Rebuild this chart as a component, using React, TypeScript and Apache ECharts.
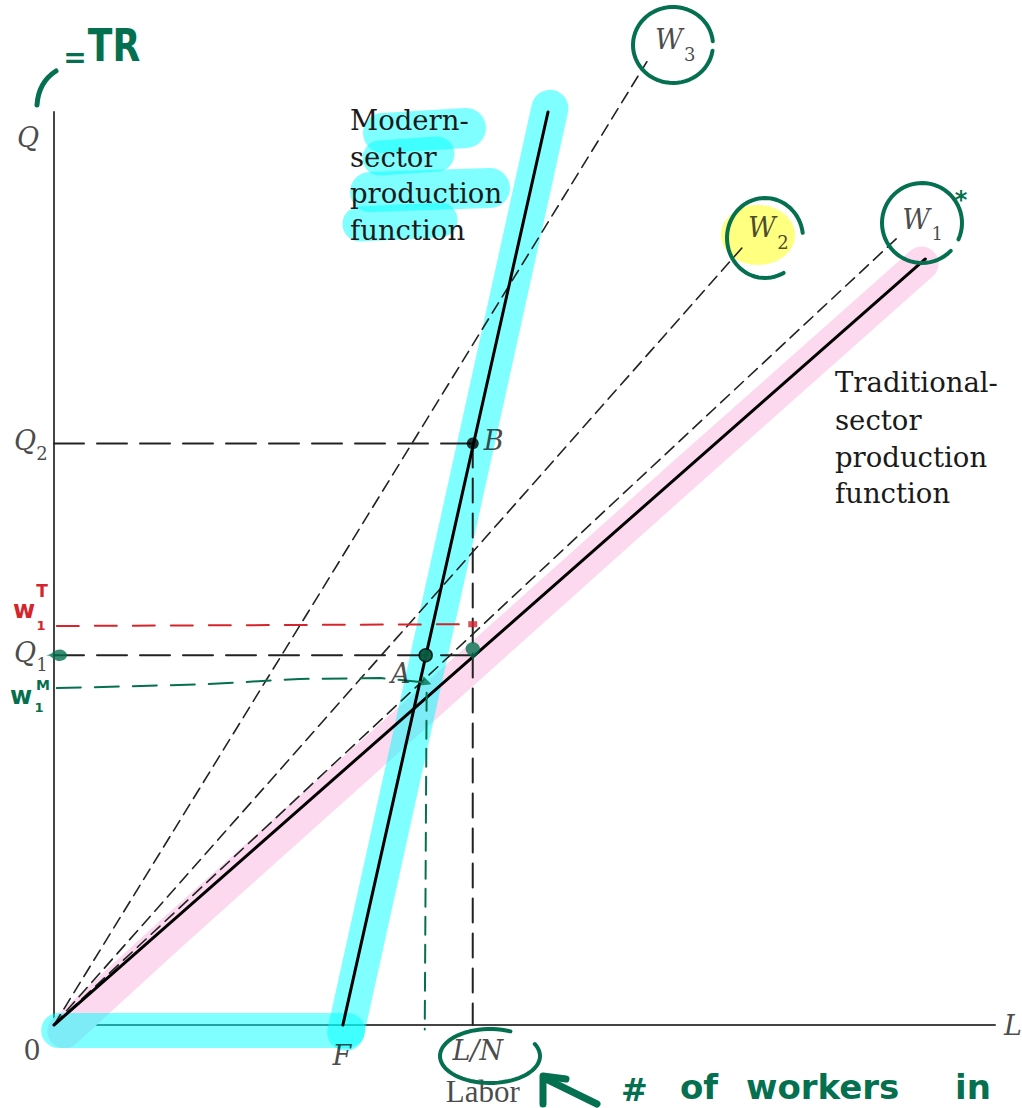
import React, { useEffect, useRef } from "react";
import * as echarts from "echarts";

// ---- axis ranges (arbitrary units) ----
const X_MAX = 100;
const Y_MAX = 100;

// ---- key values ----
const F_LABOR = 30.7;
const LN_LABOR = 44.5;
const Q1 = 40.5;
const Q2 = 63.7;
const W1T_LEVEL = 43.9;

// ---- curves ----
const traditionalCurve = [[0, 0], [92.6, 83.9]];
const modernCurve = [[F_LABOR, 0], [52.5, 100]];
const wageW1 = [[0, 0], [89.6, 86.2]];
const wageW2 = [[0, 0], [73.1, 85.1]];
const wageW3 = [[0, 0], [63.0, 105.5]];
const pointA = [39.5, Q1];
const pointB = [LN_LABOR, Q2];
const q2Guide = [[0, Q2], [LN_LABOR, Q2]];
const q1Guide = [[0, Q1], [LN_LABOR, Q1]];
const lnGuide = [[LN_LABOR, Q2], [LN_LABOR, 0]];
const w1tGuide = [[0.3, 43.7], [LN_LABOR, W1T_LEVEL]];
const w1mCurve = [[0.3, 36.9], [15.5, 37.3], [26.1, 37.9], [34.7, 38.0], [39.6, 37.5]];
const w1mDrop = [[39.6, 36.4], [39.4, -0.5]];
const modernHighlight = [[52.7, 100.4], [31.0, -0.8]];
const floorHighlight = [[0.5, -0.6], [31.2, -0.6]];
const traditionalHighlight = [[1.1, -0.7], [12.65, 10.2], [67.6, 60.9], [92.2, 83.4]];

const INK = "#1a1a1a";
const GREEN = "#04704f";
const RED = "#d6242c";
const CYAN = "rgba(0,255,255,0.5)";
const PINK = "#fcd9ee";
const SERIF = "'DejaVu Serif', serif";
const HAND = "'DejaVu Sans', sans-serif";

function arcPoints(cx: number, cy: number, rx: number, ry: number, a0: number, a1: number) {
  const pts: number[][] = [];
  const n = 60;
  for (let i = 0; i <= n; i++) {
    const a = a0 + ((a1 - a0) * i) / n;
    pts.push([cx + rx * Math.cos(a), cy + ry * Math.sin(a)]);
  }
  return pts;
}

function lineSeries(data: number[][], color: string, width: number, type: any, z: number) {
  return {
    type: "line",
    data,
    symbol: "none",
    showSymbol: false,
    clip: false,
    silent: true,
    z,
    lineStyle: { color, width, type, cap: "round", join: "round" },
  };
}

export default function App() {
  const ref = useRef<HTMLDivElement>(null);

  useEffect(() => {
    if (!ref.current) return;
    const chart = echarts.init(ref.current, null, { renderer: "svg" });

    const labels: any[] = [
      { at: [0, Y_MAX], text: "Q", off: [-26, 25] },
      { at: [0, Q2], text: "Q", off: [-29, -3] },
      { at: [0, Q2], text: "2", off: [-12, 10], size: 18, up: true },
      { at: [0, Q1], text: "Q", off: [-29, -3] },
      { at: [0, Q1], text: "1", off: [-12, 9], size: 18, up: true },
      { at: [0, 0], text: "0", off: [-22, 25], up: true },
      { at: [F_LABOR, 0], text: "F", off: [-1, 30] },
      { at: [LN_LABOR, 0], text: "L/N", off: [5, 25] },
      { at: [LN_LABOR, 0], text: "Labor", off: [10, 66], up: true, size: 31, family: "'Liberation Serif', serif" },
      { at: [X_MAX, 0], text: "L", off: [18, 0] },
      { at: pointB, text: "B", off: [21, -3] },
      { at: pointA, text: "A", off: [-25, 18] },
      { at: wageW3[1], text: "W", off: [22, -22] },
      { at: wageW3[1], text: "3", off: [43, -7], size: 18, up: true },
      { at: wageW2[1], text: "W", off: [20, -21] },
      { at: wageW2[1], text: "2", off: [41, -6], size: 18, up: true },
      { at: wageW1[1], text: "W", off: [19, -18] },
      { at: wageW1[1], text: "1", off: [40, -4], size: 18, up: true },
    ];

    const series: any[] = [
      lineSeries(traditionalHighlight, PINK, 34, "solid", 1),
      lineSeries(floorHighlight, CYAN, 35, "solid", 2),
      lineSeries(modernHighlight, CYAN, 37, "solid", 2),
      lineSeries(wageW1, "#222", 1.6, [12, 7], 3),
      lineSeries(wageW2, "#222", 1.6, [12, 7], 3),
      lineSeries(wageW3, "#222", 1.6, [12, 7], 3),
      lineSeries(q2Guide, "#222", 2, [30, 13], 3),
      lineSeries(q1Guide, "#222", 2, [30, 13], 3),
      lineSeries(lnGuide, "#222", 2, [24, 11], 3),
      lineSeries(traditionalCurve, "#000", 3, "solid", 4),
      lineSeries(modernCurve, "#000", 3, "solid", 4),
      lineSeries(w1tGuide, RED, 2, [22, 16], 5),
      lineSeries(w1mCurve, GREEN, 2, [24, 14], 5),
      lineSeries(w1mDrop, GREEN, 2, [18, 10], 5),
      {
        type: "scatter",
        silent: true,
        clip: false,
        z: 6,
        data: [pointA, pointB],
        symbol: "circle",
        symbolSize: 12,
        itemStyle: { color: "#000" },
      },
      {
        type: "scatter",
        silent: true,
        clip: false,
        z: 7,
        data: [
          { value: pointA, symbol: "circle", symbolSize: 13, itemStyle: { color: "#0b6a4a", borderColor: "#000", borderWidth: 1.5 } },
          { value: [LN_LABOR, Q1], symbol: "pin", symbolSize: [24, 22], symbolOffset: [0, 6], itemStyle: { color: GREEN } },
          { value: [0, Q1], symbol: "pin", symbolSize: [19, 24], symbolRotate: -90, symbolOffset: [-8, 0], itemStyle: { color: GREEN } },
          { value: [LN_LABOR, W1T_LEVEL], symbol: "rect", symbolSize: [9, 6], itemStyle: { color: RED } },
          { value: w1mCurve[w1mCurve.length - 1], symbol: "triangle", symbolSize: 10, symbolRotate: -110, itemStyle: { color: GREEN } },
        ],
      },
      {
        type: "scatter",
        silent: true,
        clip: false,
        z: 10,
        symbolSize: 1,
        itemStyle: { color: "rgba(0,0,0,0)" },
        data: labels.map((l) => ({
          value: l.at,
          label: {
            show: true,
            position: "inside",
            formatter: l.text,
            offset: l.off,
            fontSize: l.size || 27,
            fontStyle: l.up ? "normal" : "italic",
            fontFamily: l.family || SERIF,
            color: INK,
          },
        })),
      },
    ];

    const textLines = (lines: string[], x: number, ys: number[]) =>
      lines.map((t, i) => ({
        type: "text",
        x,
        y: ys[i],
        z: 50,
        silent: true,
        style: { text: t, fontSize: 27.5, fontFamily: SERIF, fill: INK, align: "left", verticalAlign: "middle" },
      }));

    const hl = (x1: number, y1: number, x2: number, y2: number, w: number) => ({
      type: "line",
      z: 1,
      silent: true,
      shape: { x1, y1, x2, y2 },
      style: { stroke: CYAN, lineWidth: w, lineCap: "round" },
    });

    const pen = (points: number[][], color: string, w: number) => ({
      type: "polyline",
      z: 100,
      silent: true,
      shape: { points },
      style: { stroke: color, lineWidth: w, fill: "none", lineCap: "round", lineJoin: "round" },
    });

    const hand = (text: string, x: number, y: number, size: number, color: string, align = "center", scaleX = 1) => ({
      type: "text",
      x,
      y,
      scaleX,
      z: 100,
      silent: true,
      style: { text, fontSize: size, fontWeight: "bold", fontFamily: HAND, fill: color, align, verticalAlign: "middle" },
    });

    const graphic: any[] = [
      // highlighter marks
      hl(383, 133, 466, 128, 40),
      hl(380, 158, 437, 154, 35),
      hl(370, 192, 490, 188, 40),
      hl(360, 224, 440, 220, 35),
      { type: "ellipse", z: 1, silent: true, shape: { cx: 758, cy: 235, rx: 37, ry: 30 }, style: { fill: "#ffff80" } },
      // printed labels
      ...textLines(["Modern-", "sector", "production", "function"], 350, [120, 157, 193, 230]),
      ...textLines(["Traditional-", "sector", "production", "function"], 835, [382, 420, 457, 493]),
      // hand-drawn annotations
      {
        type: "bezierCurve",
        z: 100,
        silent: true,
        shape: { x1: 37, y1: 105, cpx1: 38, cpy1: 90, cpx2: 45, cpy2: 78, x2: 56, y2: 71 },
        style: { stroke: GREEN, lineWidth: 5, fill: "none", lineCap: "round" },
      },
      hand("=", 75, 57, 28, GREEN),
      hand("TR", 114, 46, 44, GREEN, "center", 0.82),
      pen(arcPoints(673, 45, 40, 38, 0.15, Math.PI * 2 - 0.1), GREEN, 4),
      pen(arcPoints(765, 238, 38, 40, 1.06, Math.PI * 2 - 0.13), GREEN, 4),
      pen(arcPoints(922, 223, 40, 40, 0.77, Math.PI * 2 + 0.42), GREEN, 4),
      hand("*", 961, 200, 24, GREEN),
      pen(arcPoints(490, 1056, 50, 27, -0.46, Math.PI * 2 - 1.15), GREEN, 4),
      pen([[543, 1104], [543, 1076], [566, 1079]], GREEN, 7),
      pen([[546, 1079], [597, 1104]], GREEN, 7),
      hand("#", 621, 1090, 32, GREEN, "left"),
      hand("of", 680, 1087, 34, GREEN, "left"),
      hand("workers", 746, 1087, 34, GREEN, "left"),
      hand("in", 955, 1087, 34, GREEN, "left"),
      hand("w", 24, 610, 24, RED),
      hand("T", 42, 591, 17, RED),
      hand("1", 41, 625, 13, RED),
      hand("w", 21, 696, 24, GREEN),
      hand("M", 43, 685, 14, GREEN),
      hand("1", 39, 707, 13, GREEN),
    ];

    chart.setOption({
      animation: false,
      backgroundColor: "#ffffff",
      grid: { left: 54, right: 27, top: 112, bottom: 83 },
      xAxis: {
        type: "value",
        min: 0,
        max: X_MAX,
        axisLine: { show: true, onZero: false, lineStyle: { color: "#444", width: 2 } },
        axisTick: { show: false },
        axisLabel: { show: false },
        splitLine: { show: false },
      },
      yAxis: {
        type: "value",
        min: 0,
        max: Y_MAX,
        axisLine: { show: true, onZero: false, lineStyle: { color: "#444", width: 2 } },
        axisTick: { show: false },
        axisLabel: { show: false },
        splitLine: { show: false },
      },
      series,
      graphic,
    });

    return () => chart.dispose();
  }, []);

  return (
    <div
      ref={ref}
      style={{ position: "absolute", left: 0, top: 0, width: 1022, height: 1108, background: "#fff" }}
    />
  );
}
